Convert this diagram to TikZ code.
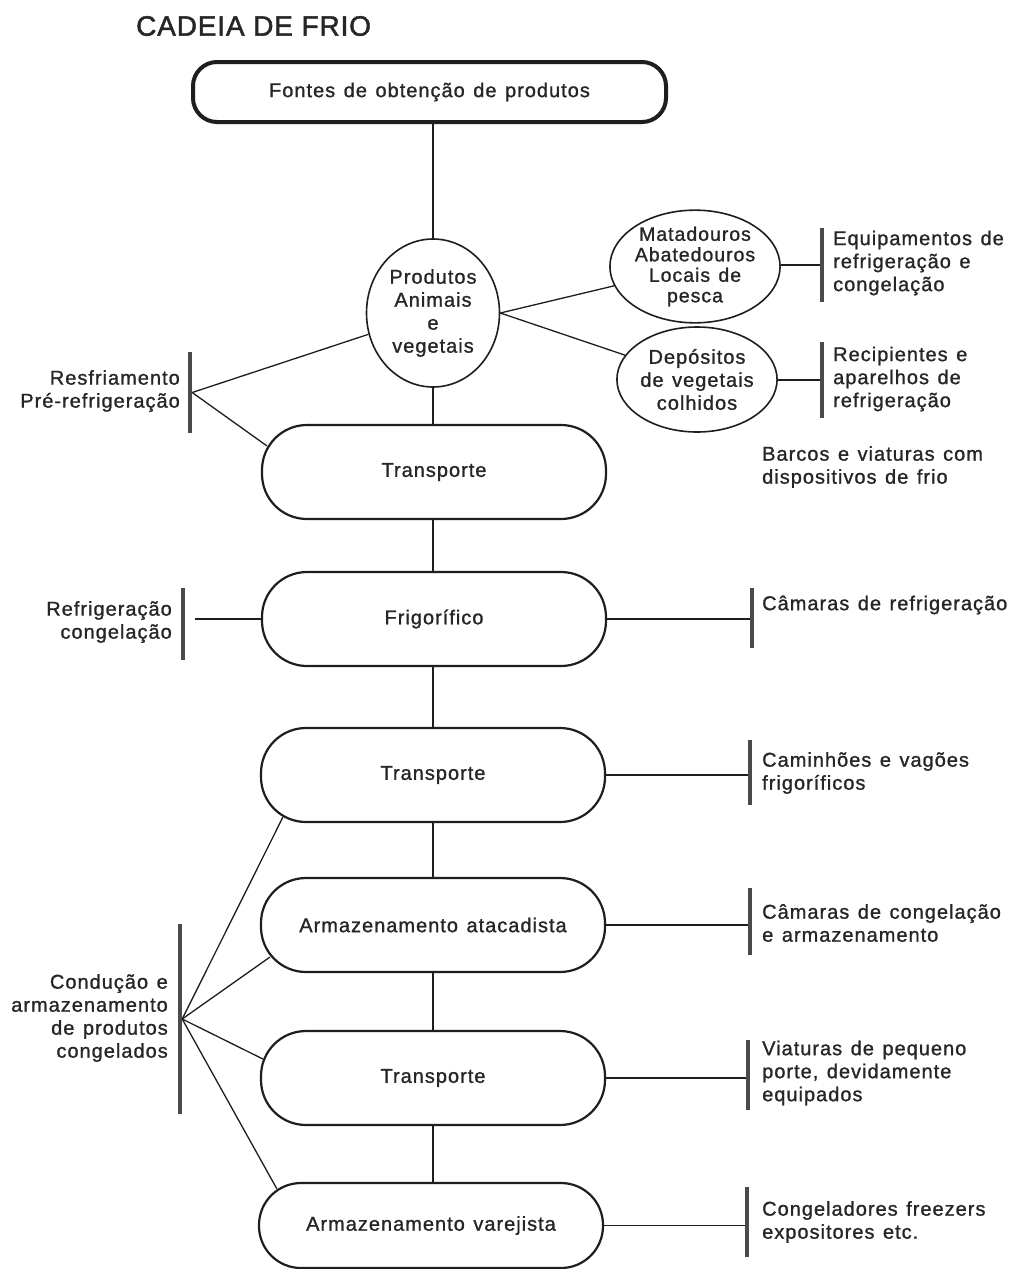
\documentclass[tikz,border=0pt]{standalone}
\usepackage{fontspec}
\setmainfont{Liberation Sans}[LetterSpace=5, WordSpace=1.3, FakeBold=1.1]
\newfontfamily\titlefont{Liberation Sans}[LetterSpace=3, FakeBold=1.6]
\usetikzlibrary{shapes.geometric,calc}

\definecolor{ink}{HTML}{1E1E1E}
\definecolor{txt}{HTML}{262626}
\definecolor{barc}{HTML}{4A4A4A}

\tikzset{
  body/.style={font=\fontsize{20}{23}\selectfont, text=txt},
  topbox/.style={draw=ink, line width=4pt, rounded corners=24pt,
    minimum width=473pt, minimum height=60pt, inner sep=0pt, body},
  stadium/.style={draw=ink, line width=2.2pt, rounded corners=45pt,
    minimum width=344pt, minimum height=94pt, inner sep=0pt, body},
  oval/.style={ellipse, draw=ink, line width=1.6pt, inner sep=0pt,
    align=center, body},
  bar/.style={fill=barc, draw=none, minimum width=4pt, inner sep=0pt},
  link/.style={draw=ink, line width=1.3pt},
  rlabel/.style={anchor=west, align=left, body, inner sep=0pt},
  llabel/.style={anchor=east, align=right, body, inner sep=0pt},
}

\begin{document}
\begin{tikzpicture}[x=1pt, y=-1pt]
  \fill[white] (0,0) rectangle (1016,1269);
  \useasboundingbox (0,0) rectangle (1016,1269);

  % title
  \node[anchor=west, inner sep=0pt, text=txt,
        font=\titlefont\fontsize{28}{30}\selectfont] (title) at (136,26) {CADEIA DE FRIO};

  % main chain
  \node[topbox] (fontes) at (429.5,92) {Fontes de obtenção de produtos};
  \node[oval, minimum width=133pt, minimum height=148pt] (prod) at (433,313)
    {Produtos\\Animais\\e\\vegetais};
  \node[stadium] (tr1) at (434,472) {Transporte};
  \node[stadium] (frig) at (434,619) {Frigorífico};
  \node[stadium] (tr2) at (433,775) {Transporte};
  \node[stadium] (atac) at (433,925) {Armazenamento atacadista};
  \node[stadium] (tr3) at (433,1078) {Transporte};
  \node[stadium, minimum height=85pt, rounded corners=42pt] (varej) at (431,1225.5)
    {Armazenamento varejista};

  % sources
  \node[oval, minimum width=150pt, minimum height=97pt,
        font=\fontsize{19.5}{20.5}\selectfont] (mat) at (695,266.5)
    {Matadouros\\Abatedouros\\Locais de\\pesca};
  \node[oval, minimum width=145pt, minimum height=105pt] (dep) at (697,379.5)
    {Depósitos\\de vegetais\\colhidos};

  % brackets
  \node[bar, minimum height=74pt] (bMat) at (822,265) {};
  \node[bar, minimum height=76pt] (bDep) at (822,380) {};
  \node[bar, minimum height=81pt] (bRes) at (190,392.5) {};
  \node[bar, minimum height=72pt] (bFrL) at (183,624) {};
  \node[bar, minimum height=60pt] (bFrR) at (752,618) {};
  \node[bar, minimum height=65pt] (bTr2) at (750,772) {};
  \node[bar, minimum height=67pt] (bAta) at (750,921) {};
  \node[bar, minimum height=70pt] (bTr3) at (748,1075) {};
  \node[bar, minimum height=70pt] (bVar) at (747,1222) {};
  \node[bar, minimum height=190pt] (bCon) at (180,1019) {};

  % labels
  \node[rlabel] (lMat) at (833,263) {Equipamentos de\\refrigeração e\\congelação};
  \node[rlabel] (lDep) at (833,379) {Recipientes e\\aparelhos de\\refrigeração};
  \node[rlabel] (lBar) at (762,467) {Barcos e viaturas com\\dispositivos de frio};
  \node[rlabel] (lFrR) at (762,605) {Câmaras de refrigeração};
  \node[rlabel] (lTr2) at (762,773) {Caminhões e vagões\\frigoríficos};
  \node[rlabel] (lAta) at (762,923) {Câmaras de congelação\\e armazenamento};
  \node[rlabel] (lTr3) at (762,1073) {Viaturas de pequeno\\porte, devidamente\\equipados};
  \node[rlabel] (lVar) at (762,1222) {Congeladores freezers\\expositores etc.};
  \node[llabel] (lRes) at (180,391) {Resfriamento\\Pré-refrigeração};
  \node[llabel] (lFrL) at (172,622) {Refrigeração\\congelação};
  \node[llabel] (lCon) at (168,1018) {Condução e\\armazenamento\\de produtos\\congelados};

  % vertical spine
  \draw[link] (prod.north |- fontes.south) -- (prod.north);
  \draw[link] (prod.south) -- (prod.south |- tr1.north);
  \draw[link] (prod.south |- tr1.south) -- (prod.south |- frig.north);
  \draw[link] (prod.south |- frig.south) -- (prod.south |- tr2.north);
  \draw[link] (prod.south |- tr2.south) -- (prod.south |- atac.north);
  \draw[link] (prod.south |- atac.south) -- (prod.south |- tr3.north);
  \draw[link] (prod.south |- tr3.south) -- (prod.south |- varej.north);

  % branches to the sources
  \draw[link] (prod.east) -- (mat);
  \draw[link] (prod.east) -- (dep);
  \draw[link] (bMat.west -| mat.east) -- (bMat.west);
  \draw[link] (bDep.west -| dep.east) -- (bDep.west);

  % cooling before transport
  \draw[link] (bRes.east) -- (prod);
  \draw[link] (bRes.east) -- ($(tr1.north west)+(6,22)$);

  % cold store
  \draw[link] (frig.west) -- ($(frig.west -| bFrL.east)+(10,0)$);
  \draw[link] (frig.east) -- (frig.east -| bFrR.west);

  % right-hand equipment
  \draw[link] (tr2.east) -- (tr2.east -| bTr2.west);
  \draw[link] (atac.east) -- (atac.east -| bAta.west);
  \draw[link] (tr3.east) -- (tr3.east -| bTr3.west);
  \draw[link] (varej.east) -- (varej.east -| bVar.west);

  % frozen goods fan
  \draw[link] (bCon.east) -- ($(tr2.south west)+(23,-6)$);
  \draw[link] (bCon.east) -- ($(atac.south west)+(10,-16)$);
  \draw[link] (bCon.east) -- ($(tr3.west)+(3,-19)$);
  \draw[link] (bCon.east) -- ($(varej.north west)+(19,7)$);
\end{tikzpicture}
\end{document}
